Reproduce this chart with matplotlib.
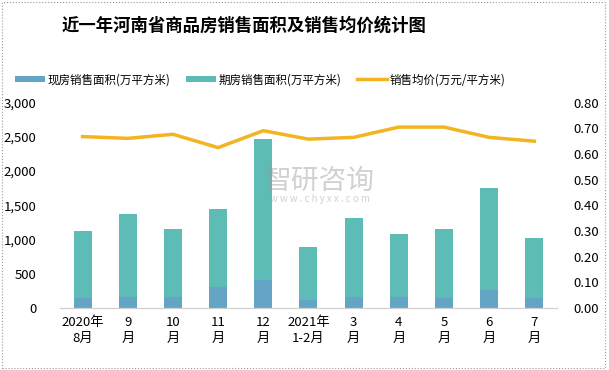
import numpy as np
import matplotlib.pyplot as plt
from matplotlib.patches import Rectangle

plt.rcParams['font.family'] = ['Noto Sans CJK SC', 'DejaVu Sans']

months = ["2020年\n8月", "9\n月", "10\n月", "11\n月", "12\n月", "2021年\n1-2月",
          "3\n月", "4\n月", "5\n月", "6\n月", "7\n月"]
total_area = [1128, 1376, 1157, 1449, 2470, 894, 1317, 1084, 1157, 1755, 1026]
spot_area = [150, 165, 165, 311, 413, 121, 165, 165, 150, 267, 150]
price = [0.668, 0.661, 0.677, 0.625, 0.691, 0.658, 0.665, 0.705, 0.705, 0.665, 0.650]

futures_area = [t - s for t, s in zip(total_area, spot_area)]

c_spot = "#64a5c5"
c_fut = "#5dbcb6"
c_line = "#f2b420"


def main():
    fig = plt.figure(figsize=(6.09, 3.70), dpi=100)
    ax = fig.add_axes([0.0985, 0.1676, 0.816, 0.5548])
    ax2 = ax.twinx()

    x = np.arange(len(months))
    ax.bar(x, spot_area, width=0.4, color=c_spot, label="现房销售面积(万平方米)", zorder=2)
    ax.bar(x, futures_area, width=0.4, bottom=spot_area, color=c_fut,
           label="期房销售面积(万平方米)", zorder=2)
    ax2.plot(x, price, color=c_line, lw=2.5, label="销售均价(万元/平方米)", zorder=3)

    ax.set_xlim(-0.5, len(months) - 0.5)
    ax.set_ylim(0, 3000)
    ax.set_yticks(range(0, 3001, 500))
    ax.set_yticklabels([f"{v:,}" for v in range(0, 3001, 500)])
    ax2.set_ylim(0, 0.8)
    ax2.set_yticks(np.arange(0, 0.81, 0.1))
    ax2.set_yticklabels([f"{v:.2f}" for v in np.arange(0, 0.81, 0.1)])
    ax.set_xticks(x)
    ax.set_xticklabels(months, fontsize=9.5, linespacing=1.3)

    for a in (ax, ax2):
        for s in ("top", "left", "right"):
            a.spines[s].set_visible(False)
        a.spines["bottom"].set_color("#d0d0d0")
        a.tick_params(length=0, labelsize=9.5)
    ax.tick_params(axis="y", pad=17)
    ax2.tick_params(axis="y", pad=12)
    ax.tick_params(axis="x", pad=6)

    # watermark
    fig.text(0.525, 0.512, "智研咨询", fontsize=20, color="#9a9a9a", alpha=0.45,
             ha="center", va="center", zorder=1)
    fig.text(0.525, 0.462, "w w w . c h y x x . c o m", fontsize=7, color="#9a9a9a",
             alpha=0.45, ha="center", va="center")

    fig.text(0.40, 0.93, "近一年河南省商品房销售面积及销售均价统计图", fontsize=12.5,
             fontweight="bold", ha="center", va="center")

    h1, l1 = ax.get_legend_handles_labels()
    h2, l2 = ax2.get_legend_handles_labels()
    fig.legend(h1 + h2, l1 + l2, loc="center", bbox_to_anchor=(0.427, 0.785), ncol=3,
               frameon=False, fontsize=8.3, handlelength=2.6, handleheight=0.5,
               columnspacing=1.4, handletextpad=0.2)

    fig.patches.append(Rectangle((0.004, 0.005), 0.99, 0.99, transform=fig.transFigure,
                                 fill=False, edgecolor="#999999", lw=0.8, ls=":"))

    fig.savefig("out.png", dpi=100)


if __name__ == "__main__":
    main()
